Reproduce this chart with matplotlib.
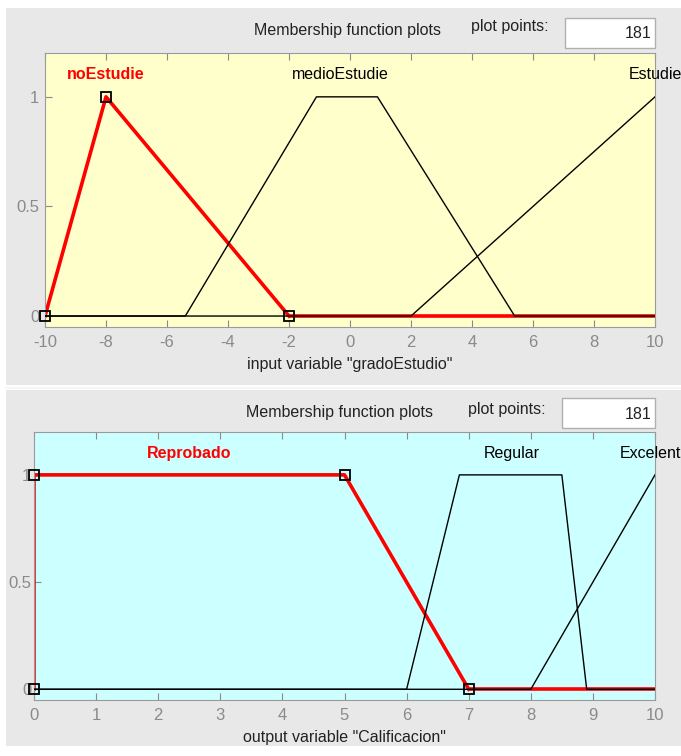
import matplotlib
matplotlib.use("Agg")
import matplotlib.pyplot as plt
from matplotlib.patches import Rectangle

plt.rcParams['font.family'] = ['Liberation Sans', 'DejaVu Sans']
plt.rcParams['axes.unicode_minus'] = False

# ---- data ----
in_name = 'input variable "gradoEstudio"'
in_range = [-10, 10]
in_ticks = [-10, -8, -6, -4, -2, 0, 2, 4, 6, 8, 10]
in_mf_names = ["noEstudie", "medioEstudie", "Estudie"]
in_mf_x = [[-10, -8, -2], [-5.4, -1.1, 0.9, 5.4], [2, 10]]
in_mf_y = [[0, 1, 0], [0, 1, 1, 0], [0, 1]]
in_label_x = [-8, -0.3, 10]

out_name = 'output variable "Calificacion"'
out_range = [0, 10]
out_ticks = [0, 1, 2, 3, 4, 5, 6, 7, 8, 9, 10]
out_mf_names = ["Reprobado", "Regular", "Excelente"]
out_mf_x = [[0, 0, 5, 7], [6, 6.85, 8.5, 8.9], [8, 10]]
out_mf_y = [[0, 1, 1, 0], [0, 1, 1, 0], [0, 1]]
out_label_x = [2.5, 7.7, 10]

y_ticks = [0, 0.5, 1]
y_ticklabels = ["0", "0.5", "1"]
plot_points = "181"
header = "Membership function plots"
points_label = "plot points:"

W, H = 681, 756
fig = plt.figure(figsize=(W / 100, H / 100), dpi=100, facecolor="white")

def px_rect(l, t, r, b):
    return [l / W, 1 - b / H, (r - l) / W, (b - t) / H]

# panel backgrounds
bg = fig.add_axes([0, 0, 1, 1], zorder=-10)
bg.set_xlim(0, W); bg.set_ylim(H, 0); bg.axis("off")
bg.add_patch(Rectangle((6, 8), W - 6, 377, facecolor="#e8e8e8", edgecolor="none"))
bg.add_patch(Rectangle((6, 390), W - 6, 356, facecolor="#e8e8e8", edgecolor="none"))
bg.plot([6, W], [387.5, 387.5], color="#f6f6f6", lw=1.5)

GREY = "#8a8a8a"
TXT = "#222222"

def draw_panel(rect, face, xr, xticks, names, xs, ys, labx, xlabel,
               header_x, header_y, box, ylab_pad):
    ax = fig.add_axes(px_rect(*rect), facecolor=face)
    ax.set_xlim(*xr)
    ax.set_ylim(-0.05, 1.2)
    # selected MF (red) first, then the others in black on top
    ax.plot([xs[0][-1], xr[1]], [0, 0], color="red", lw=2.6, zorder=2,
            solid_capstyle="butt")
    ax.plot(xs[0], ys[0], color="red", lw=2.6, zorder=2)
    for i in range(1, len(names)):
        xx = list(xs[i]); yy = list(ys[i])
        if xx[0] > xr[0]:
            xx = [xr[0]] + xx; yy = [0] + yy
        if xx[-1] < xr[1]:
            xx = xx + [xr[1]]; yy = yy + [0]
        ax.plot(xx, yy, color="black", lw=1.0, zorder=3)
    ax.plot(xs[0], ys[0], linestyle="none", marker="s", markersize=7,
            markerfacecolor="none", markeredgecolor="black", markeredgewidth=1.3,
            zorder=4, clip_on=False)
    for i, n in enumerate(names):
        ax.text(labx[i], 1.1, n, ha="center", va="center", fontsize=11.5,
                color="red" if i == 0 else "black",
                fontweight="bold" if i == 0 else "normal", clip_on=False)
    ax.set_xticks(xticks)
    ax.set_yticks(y_ticks)
    ax.set_yticklabels(y_ticklabels)
    ax.tick_params(axis="x", direction="in", top=True, length=5, color=GREY,
                   labelcolor=GREY, labelsize=12, pad=6)
    ax.tick_params(axis="y", direction="in", length=5, color=GREY,
                   labelcolor=GREY, labelsize=12, pad=ylab_pad)
    for s in ax.spines.values():
        s.set_color("#9a9a9a")
    ax.set_xlabel(xlabel, fontsize=11.5, color=TXT, labelpad=5)
    # header texts and "plot points" box
    fig.text(header_x / W, 1 - header_y / H, header, ha="center", va="center",
             fontsize=11.5, color=TXT)
    fig.text((box[0] - 55) / W, 1 - (header_y - 4) / H, points_label,
             ha="center", va="center", fontsize=11.5, color=TXT)
    bg.add_patch(Rectangle((box[0], box[1]), box[2] - box[0], box[3] - box[1],
                           facecolor="white", edgecolor="#b0b0b0", lw=1))
    fig.text((box[2] - 4) / W, 1 - ((box[1] + box[3]) / 2 + 1) / H, plot_points,
             ha="right", va="center", fontsize=11.5, color=TXT)
    return ax

draw_panel((45, 53, 655, 327), "#ffffcc", in_range, in_ticks, in_mf_names,
           in_mf_x, in_mf_y, in_label_x, in_name, 347, 31, (565, 18, 655, 48), 4)
draw_panel((34, 432, 655, 700), "#ccffff", out_range, out_ticks, out_mf_names,
           out_mf_x, out_mf_y, out_label_x, out_name, 340, 413, (562, 398, 655, 428), 2)

fig.savefig("out.png", dpi=100, facecolor="white")
